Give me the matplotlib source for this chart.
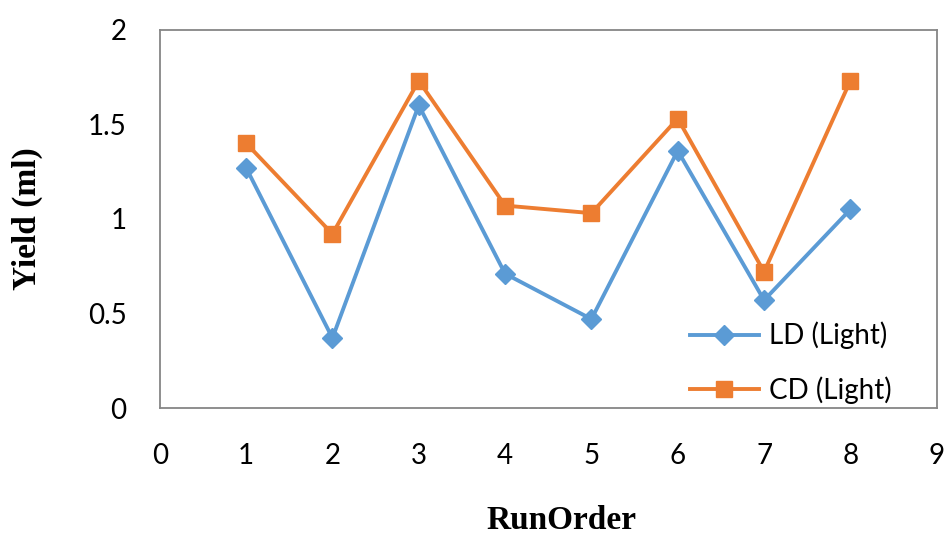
import matplotlib
matplotlib.use("Agg")
import matplotlib.pyplot as plt

run_order = [1, 2, 3, 4, 5, 6, 7, 8]
ld_light = [1.27, 0.37, 1.60, 0.71, 0.47, 1.36, 0.57, 1.05]
cd_light = [1.40, 0.92, 1.73, 1.07, 1.03, 1.53, 0.72, 1.73]
x_ticks = list(range(0, 10))
y_ticks = [0, 0.5, 1, 1.5, 2]
y_tick_labels = ["0", "0.5", "1", "1.5", "2"]

fig = plt.figure(figsize=(9.51, 5.39), dpi=100)
ax = fig.add_axes([0.168, 0.243, 0.817, 0.702])

ax.plot(run_order, ld_light, color="#5B9BD5", lw=2.8, marker="D", ms=10.5,
        label="LD (Light)")
ax.plot(run_order, cd_light, color="#ED7D31", lw=2.8, marker="s", ms=11,
        label="CD (Light)")

ax.set_xlim(0, 9)
ax.set_ylim(0, 2)
ax.set_xticks(x_ticks)
ax.set_yticks(y_ticks)
ax.set_yticklabels(y_tick_labels)
ax.tick_params(length=0, labelsize=20)
ax.tick_params(axis="y", pad=24)
ax.tick_params(axis="x", pad=25)
for lab in ax.get_xticklabels() + ax.get_yticklabels():
    lab.set_family("Lato")
for s in ax.spines.values():
    s.set_color("#868686")
    s.set_linewidth(1.3)

ax.set_xlabel("RunOrder", fontsize=24, fontweight="bold", family="Liberation Serif")
ax.set_ylabel("Yield (ml)", fontsize=24, fontweight="bold", family="Liberation Serif")
ax.xaxis.set_label_coords(0.5175, -0.298)
ax.xaxis.label.set_va("center")
ax.yaxis.set_label_coords(-0.17, 0.5)
ax.yaxis.label.set_va("center")

leg = ax.legend(loc="upper left", frameon=False, prop={"family": "Lato", "size": 20},
                handlelength=2.5, handletextpad=0.35, labelspacing=0.98,
                bbox_to_anchor=(0.682, 0.228), borderpad=0, borderaxespad=0)

fig.savefig("out.png", dpi=100)
